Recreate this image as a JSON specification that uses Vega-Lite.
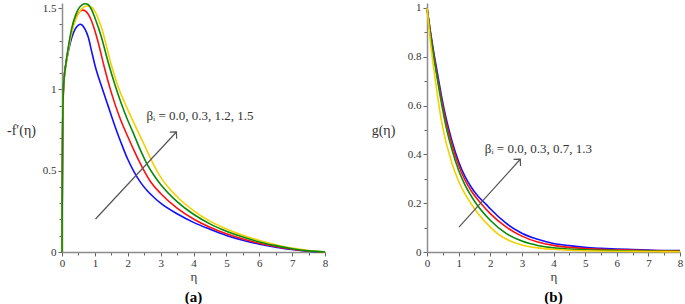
{
"$schema": "https://vega.github.io/schema/vega-lite/v6.json",
"background": "white",
"padding": {"left": 6, "top": 0, "right": 0, "bottom": 0},
"spacing": 102,
"bounds": "flush",
"resolve": {"scale": {"color": "independent"}},
"config": {
  "view": {"stroke": null},
  "font": "Liberation Serif",
  "axis": {"grid": false, "domainColor": "#8c8c8c", "domainWidth": 1.5, "tickColor": "#666", "tickWidth": 1, "labelFont": "Liberation Serif", "labelFontSize": 11, "labelColor": "#333", "titleFont": "Liberation Serif", "titleFontSize": 14, "titleFontWeight": "normal", "titleColor": "#333", "labelOverlap": false, "labelFlush": false},
  "title": {"font": "Liberation Serif"}
},
"datasets": {
"fa": [
{"beta":"0.0","eta":0,"val":0},{"beta":"0.0","eta":0.01,"val":0.45},{"beta":"0.0","eta":0.02,"val":0.75},{"beta":"0.0","eta":0.04,"val":0.98},{"beta":"0.0","eta":0.07,"val":1.08},{"beta":"0.0","eta":0.1,"val":1.13},{"beta":"0.0","eta":0.2,"val":1.24},{"beta":"0.0","eta":0.3,"val":1.32},{"beta":"0.0","eta":0.4,"val":1.37},{"beta":"0.0","eta":0.5,"val":1.395},{"beta":"0.0","eta":0.55,"val":1.4},{"beta":"0.0","eta":0.6,"val":1.397},{"beta":"0.0","eta":0.7,"val":1.37},{"beta":"0.0","eta":0.8,"val":1.32},{"beta":"0.0","eta":0.9,"val":1.235},{"beta":"0.0","eta":1.0,"val":1.15},{"beta":"0.0","eta":1.2,"val":1.02},{"beta":"0.0","eta":1.4,"val":0.9},{"beta":"0.0","eta":1.6,"val":0.78},{"beta":"0.0","eta":1.8,"val":0.67},{"beta":"0.0","eta":2.0,"val":0.57},{"beta":"0.0","eta":2.2,"val":0.49},{"beta":"0.0","eta":2.4,"val":0.425},{"beta":"0.0","eta":2.6,"val":0.375},{"beta":"0.0","eta":2.8,"val":0.335},{"beta":"0.0","eta":3.0,"val":0.3},{"beta":"0.0","eta":3.5,"val":0.235},{"beta":"0.0","eta":4.0,"val":0.182},{"beta":"0.0","eta":4.5,"val":0.14},{"beta":"0.0","eta":5.0,"val":0.102},{"beta":"0.0","eta":5.5,"val":0.072},{"beta":"0.0","eta":6.0,"val":0.048},{"beta":"0.0","eta":6.5,"val":0.03},{"beta":"0.0","eta":7.0,"val":0.015},{"beta":"0.0","eta":7.5,"val":0.005},{"beta":"0.0","eta":8.0,"val":0},
{"beta":"0.3","eta":0,"val":0},{"beta":"0.3","eta":0.01,"val":0.45},{"beta":"0.3","eta":0.02,"val":0.75},{"beta":"0.3","eta":0.04,"val":0.98},{"beta":"0.3","eta":0.07,"val":1.08},{"beta":"0.3","eta":0.1,"val":1.13},{"beta":"0.3","eta":0.2,"val":1.26},{"beta":"0.3","eta":0.3,"val":1.36},{"beta":"0.3","eta":0.4,"val":1.43},{"beta":"0.3","eta":0.5,"val":1.47},{"beta":"0.3","eta":0.63,"val":1.487},{"beta":"0.3","eta":0.7,"val":1.483},{"beta":"0.3","eta":0.8,"val":1.462},{"beta":"0.3","eta":0.9,"val":1.42},{"beta":"0.3","eta":1.0,"val":1.36},{"beta":"0.3","eta":1.1,"val":1.29},{"beta":"0.3","eta":1.27,"val":1.15},{"beta":"0.3","eta":1.5,"val":0.98},{"beta":"0.3","eta":1.75,"val":0.83},{"beta":"0.3","eta":2.0,"val":0.71},{"beta":"0.3","eta":2.2,"val":0.62},{"beta":"0.3","eta":2.43,"val":0.525},{"beta":"0.3","eta":2.7,"val":0.43},{"beta":"0.3","eta":3.0,"val":0.36},{"beta":"0.3","eta":3.5,"val":0.27},{"beta":"0.3","eta":4.0,"val":0.203},{"beta":"0.3","eta":4.5,"val":0.152},{"beta":"0.3","eta":5.0,"val":0.112},{"beta":"0.3","eta":5.5,"val":0.08},{"beta":"0.3","eta":6.0,"val":0.054},{"beta":"0.3","eta":6.5,"val":0.034},{"beta":"0.3","eta":7.0,"val":0.017},{"beta":"0.3","eta":7.5,"val":0.006},{"beta":"0.3","eta":8.0,"val":0},
{"beta":"1.5","eta":0,"val":0},{"beta":"1.5","eta":0.01,"val":0.45},{"beta":"1.5","eta":0.02,"val":0.75},{"beta":"1.5","eta":0.04,"val":0.98},{"beta":"1.5","eta":0.07,"val":1.08},{"beta":"1.5","eta":0.1,"val":1.12},{"beta":"1.5","eta":0.2,"val":1.25},{"beta":"1.5","eta":0.3,"val":1.35},{"beta":"1.5","eta":0.4,"val":1.42},{"beta":"1.5","eta":0.5,"val":1.465},{"beta":"1.5","eta":0.6,"val":1.495},{"beta":"1.5","eta":0.76,"val":1.513},{"beta":"1.5","eta":0.9,"val":1.505},{"beta":"1.5","eta":1.0,"val":1.48},{"beta":"1.5","eta":1.2,"val":1.38},{"beta":"1.5","eta":1.5,"val":1.15},{"beta":"1.5","eta":1.7,"val":1.02},{"beta":"1.5","eta":2.0,"val":0.875},{"beta":"1.5","eta":2.3,"val":0.745},{"beta":"1.5","eta":2.5,"val":0.66},{"beta":"1.5","eta":2.73,"val":0.56},{"beta":"1.5","eta":3.0,"val":0.46},{"beta":"1.5","eta":3.5,"val":0.34},{"beta":"1.5","eta":4.0,"val":0.255},{"beta":"1.5","eta":4.5,"val":0.19},{"beta":"1.5","eta":5.0,"val":0.142},{"beta":"1.5","eta":5.5,"val":0.103},{"beta":"1.5","eta":6.0,"val":0.071},{"beta":"1.5","eta":6.5,"val":0.045},{"beta":"1.5","eta":7.0,"val":0.024},{"beta":"1.5","eta":7.5,"val":0.009},{"beta":"1.5","eta":8.0,"val":0},
{"beta":"1.2","eta":0,"val":0},{"beta":"1.2","eta":0.01,"val":0.45},{"beta":"1.2","eta":0.02,"val":0.75},{"beta":"1.2","eta":0.04,"val":0.98},{"beta":"1.2","eta":0.07,"val":1.08},{"beta":"1.2","eta":0.1,"val":1.13},{"beta":"1.2","eta":0.2,"val":1.27},{"beta":"1.2","eta":0.3,"val":1.38},{"beta":"1.2","eta":0.4,"val":1.45},{"beta":"1.2","eta":0.5,"val":1.495},{"beta":"1.2","eta":0.6,"val":1.518},{"beta":"1.2","eta":0.71,"val":1.526},{"beta":"1.2","eta":0.8,"val":1.52},{"beta":"1.2","eta":0.9,"val":1.49},{"beta":"1.2","eta":1.0,"val":1.44},{"beta":"1.2","eta":1.2,"val":1.32},{"beta":"1.2","eta":1.4,"val":1.17},{"beta":"1.2","eta":1.6,"val":1.035},{"beta":"1.2","eta":1.8,"val":0.915},{"beta":"1.2","eta":2.0,"val":0.81},{"beta":"1.2","eta":2.15,"val":0.74},{"beta":"1.2","eta":2.4,"val":0.62},{"beta":"1.2","eta":2.6,"val":0.535},{"beta":"1.2","eta":2.8,"val":0.47},{"beta":"1.2","eta":3.0,"val":0.415},{"beta":"1.2","eta":3.5,"val":0.31},{"beta":"1.2","eta":4.0,"val":0.232},{"beta":"1.2","eta":4.5,"val":0.173},{"beta":"1.2","eta":5.0,"val":0.128},{"beta":"1.2","eta":5.5,"val":0.092},{"beta":"1.2","eta":6.0,"val":0.062},{"beta":"1.2","eta":6.5,"val":0.039},{"beta":"1.2","eta":7.0,"val":0.02},{"beta":"1.2","eta":7.5,"val":0.007},{"beta":"1.2","eta":8.0,"val":0}
],
"gb": [
{"beta":"0.0","eta":0,"val":1},{"beta":"0.0","eta":0.1,"val":0.91},{"beta":"0.0","eta":0.2,"val":0.828},{"beta":"0.0","eta":0.34,"val":0.725},{"beta":"0.0","eta":0.45,"val":0.645},{"beta":"0.0","eta":0.6,"val":0.55},{"beta":"0.0","eta":0.8,"val":0.45},{"beta":"0.0","eta":1.0,"val":0.37},{"beta":"0.0","eta":1.2,"val":0.31},{"beta":"0.0","eta":1.4,"val":0.265},{"beta":"0.0","eta":1.6,"val":0.23},{"beta":"0.0","eta":1.87,"val":0.195},{"beta":"0.0","eta":2.0,"val":0.177},{"beta":"0.0","eta":2.5,"val":0.118},{"beta":"0.0","eta":3.0,"val":0.077},{"beta":"0.0","eta":3.5,"val":0.052},{"beta":"0.0","eta":4.0,"val":0.035},{"beta":"0.0","eta":4.5,"val":0.026},{"beta":"0.0","eta":5.0,"val":0.019},{"beta":"0.0","eta":5.5,"val":0.015},{"beta":"0.0","eta":6.0,"val":0.012},{"beta":"0.0","eta":6.5,"val":0.01},{"beta":"0.0","eta":7.0,"val":0.008},{"beta":"0.0","eta":7.7,"val":0.006},{"beta":"0.0","eta":8.0,"val":0.006},
{"beta":"0.3","eta":0,"val":1},{"beta":"0.3","eta":0.1,"val":0.905},{"beta":"0.3","eta":0.2,"val":0.82},{"beta":"0.3","eta":0.3,"val":0.74},{"beta":"0.3","eta":0.45,"val":0.63},{"beta":"0.3","eta":0.6,"val":0.535},{"beta":"0.3","eta":0.8,"val":0.435},{"beta":"0.3","eta":1.0,"val":0.355},{"beta":"0.3","eta":1.2,"val":0.295},{"beta":"0.3","eta":1.4,"val":0.25},{"beta":"0.3","eta":1.67,"val":0.205},{"beta":"0.3","eta":2.0,"val":0.157},{"beta":"0.3","eta":2.5,"val":0.103},{"beta":"0.3","eta":3.0,"val":0.065},{"beta":"0.3","eta":3.5,"val":0.041},{"beta":"0.3","eta":4.0,"val":0.027},{"beta":"0.3","eta":4.5,"val":0.019},{"beta":"0.3","eta":5.0,"val":0.014},{"beta":"0.3","eta":5.5,"val":0.011},{"beta":"0.3","eta":6.0,"val":0.009},{"beta":"0.3","eta":7.0,"val":0.006},{"beta":"0.3","eta":8.0,"val":0.005},
{"beta":"0.7","eta":0,"val":1},{"beta":"0.7","eta":0.1,"val":0.9},{"beta":"0.7","eta":0.2,"val":0.81},{"beta":"0.7","eta":0.3,"val":0.73},{"beta":"0.7","eta":0.45,"val":0.615},{"beta":"0.7","eta":0.6,"val":0.515},{"beta":"0.7","eta":0.8,"val":0.415},{"beta":"0.7","eta":1.0,"val":0.335},{"beta":"0.7","eta":1.2,"val":0.275},{"beta":"0.7","eta":1.52,"val":0.205},{"beta":"0.7","eta":2.0,"val":0.13},{"beta":"0.7","eta":2.5,"val":0.076},{"beta":"0.7","eta":3.0,"val":0.045},{"beta":"0.7","eta":3.5,"val":0.027},{"beta":"0.7","eta":4.0,"val":0.017},{"beta":"0.7","eta":4.5,"val":0.012},{"beta":"0.7","eta":5.0,"val":0.009},{"beta":"0.7","eta":6.0,"val":0.006},{"beta":"0.7","eta":7.0,"val":0.004},{"beta":"0.7","eta":8.0,"val":0.003},
{"beta":"1.3","eta":0,"val":1},{"beta":"1.3","eta":0.1,"val":0.87},{"beta":"1.3","eta":0.23,"val":0.735},{"beta":"1.3","eta":0.3,"val":0.67},{"beta":"1.3","eta":0.44,"val":0.55},{"beta":"1.3","eta":0.6,"val":0.45},{"beta":"1.3","eta":0.72,"val":0.395},{"beta":"1.3","eta":0.81,"val":0.355},{"beta":"1.3","eta":1.0,"val":0.29},{"beta":"1.3","eta":1.2,"val":0.238},{"beta":"1.3","eta":1.36,"val":0.205},{"beta":"1.3","eta":1.6,"val":0.16},{"beta":"1.3","eta":2.0,"val":0.102},{"beta":"1.3","eta":2.24,"val":0.074},{"beta":"1.3","eta":2.5,"val":0.053},{"beta":"1.3","eta":3.0,"val":0.029},{"beta":"1.3","eta":3.5,"val":0.017},{"beta":"1.3","eta":4.0,"val":0.011},{"beta":"1.3","eta":4.5,"val":0.007},{"beta":"1.3","eta":5.0,"val":0.005},{"beta":"1.3","eta":6.0,"val":0.003},{"beta":"1.3","eta":7.0,"val":0.002},{"beta":"1.3","eta":8.0,"val":0.001}
],
"arrA": [{"eta":1.02,"val":0.203,"eta2":3.48,"val2":0.738}],
"headA": [{"eta":3.48,"val":0.738}],
"txtA": [{"eta":2.57,"val":0.836,"t":"βᵢ = 0.0, 0.3, 1.2, 1.5"}],
"arrB": [{"eta":1.01,"val":0.102,"eta2":2.95,"val2":0.38}],
"headB": [{"eta":2.95,"val":0.38}],
"txtB": [{"eta":1.83,"val":0.422,"t":"βᵢ = 0.0, 0.3, 0.7, 1.3"}]
},
"hconcat": [
{
  "width": 263, "height": 249,
  "title": {"text": "(a)", "orient": "bottom", "fontSize": 15, "fontWeight": "bold", "color": "#000", "offset": 7},
  "encoding": {
    "x": {"field": "eta", "type": "quantitative", "scale": {"domain": [0, 8], "nice": false},
          "axis": {"title": "η", "titleFontSize": 13, "values": [0,0.5,1,1.5,2,2.5,3,3.5,4,4.5,5,5.5,6,6.5,7,7.5,8], "labelExpr": "datum.value % 1 == 0 ? toString(datum.value) : ''", "tickSize": {"condition": {"test": "datum.value % 1 == 0", "value": 4}, "value": 3}, "labelPadding": 1, "titleY": 24, "titleBaseline": "middle"}},
    "y": {"field": "val", "type": "quantitative", "scale": {"domain": [0, 1.531], "nice": false},
          "axis": {"title": "-f′(η)", "values": [0,0.1,0.2,0.3,0.4,0.5,0.6,0.7,0.8,0.9,1,1.1,1.2,1.3,1.4,1.5], "labelExpr": "round(datum.value*10) % 5 == 0 ? toString(round(datum.value*10)/10) : ''", "tickSize": {"condition": {"test": "round(datum.value*10) % 5 == 0", "value": 4}, "value": 3}, "titleAngle": 0, "titleX": -41, "titleY": 127, "titleAlign": "center", "titleBaseline": "middle"}}
  },
  "layer": [
    {"data": {"name": "fa"}, "mark": {"type": "line", "strokeWidth": 1.6, "interpolate": "monotone"},
     "encoding": {
       "color": {"field": "beta", "type": "nominal", "scale": {"domain": ["0.0","0.3","1.2","1.5"], "range": ["#1010ff","#ff1010","#0a8a0a","#f5d000"]}, "legend": null}
     }},
    {"data": {"name": "arrA"}, "mark": {"type": "rule", "color": "#555", "strokeWidth": 1.2},
     "encoding": {"x2": {"field": "eta2"}, "y2": {"field": "val2"}}},
    {"data": {"name": "headA"}, "mark": {"type": "point", "shape": "M-1,1L0,0L1,1", "filled": false, "size": 90, "angle": 43, "color": "#555", "strokeWidth": 1.2, "opacity": 1},
     "encoding": {}},
    {"data": {"name": "txtA"}, "mark": {"type": "text", "align": "left", "baseline": "middle", "fontSize": 13, "font": "Liberation Serif", "color": "#333"},
     "encoding": {"text": {"field": "t"}}}
  ]
},
{
  "width": 253, "height": 249,
  "title": {"text": "(b)", "orient": "bottom", "fontSize": 15, "fontWeight": "bold", "color": "#000", "offset": 7},
  "encoding": {
    "x": {"field": "eta", "type": "quantitative", "scale": {"domain": [0, 8], "nice": false},
          "axis": {"title": "η", "titleFontSize": 13, "values": [0,0.5,1,1.5,2,2.5,3,3.5,4,4.5,5,5.5,6,6.5,7,7.5,8], "labelExpr": "datum.value % 1 == 0 ? toString(datum.value) : ''", "tickSize": {"condition": {"test": "datum.value % 1 == 0", "value": 4}, "value": 3}, "labelPadding": 1, "titleY": 24, "titleBaseline": "middle"}},
    "y": {"field": "val", "type": "quantitative", "scale": {"domain": [0, 1.02], "nice": false},
          "axis": {"title": "g(η)", "values": [0,0.1,0.2,0.3,0.4,0.5,0.6,0.7,0.8,0.9,1], "labelExpr": "round(datum.value*10) % 2 == 0 ? toString(round(datum.value*10)/10) : ''", "tickSize": {"condition": {"test": "round(datum.value*10) % 2 == 0", "value": 4}, "value": 3}, "titleAngle": 0, "titleX": -44, "titleY": 127, "titleAlign": "center", "titleBaseline": "middle"}}
  },
  "layer": [
    {"data": {"name": "gb"}, "mark": {"type": "line", "strokeWidth": 1.6, "interpolate": "monotone"},
     "encoding": {
       "color": {"field": "beta", "type": "nominal", "scale": {"domain": ["0.0","0.3","0.7","1.3"], "range": ["#1010ff","#ff1010","#0a8a0a","#f5d000"]}, "legend": null}
     }},
    {"data": {"name": "arrB"}, "mark": {"type": "rule", "color": "#555", "strokeWidth": 1.2},
     "encoding": {"x2": {"field": "eta2"}, "y2": {"field": "val2"}}},
    {"data": {"name": "headB"}, "mark": {"type": "point", "shape": "M-1,1L0,0L1,1", "filled": false, "size": 90, "angle": 43, "color": "#555", "strokeWidth": 1.2, "opacity": 1},
     "encoding": {}},
    {"data": {"name": "txtB"}, "mark": {"type": "text", "align": "left", "baseline": "middle", "fontSize": 13, "font": "Liberation Serif", "color": "#333"},
     "encoding": {"text": {"field": "t"}}}
  ]
}
]
}
